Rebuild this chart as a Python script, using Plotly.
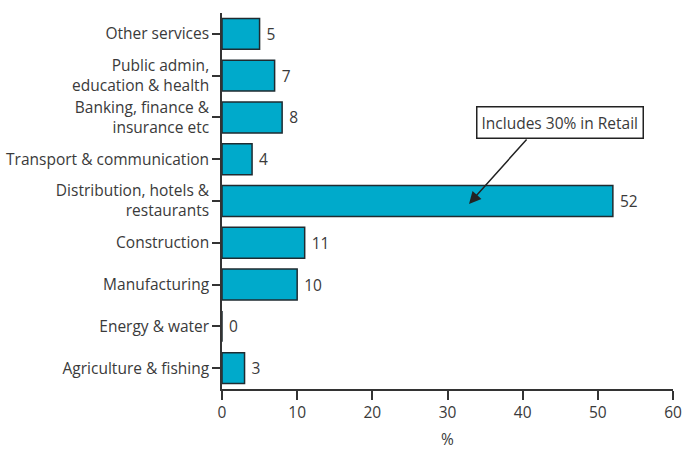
import plotly.graph_objects as go

categories = ["Agriculture & fishing", "Energy & water", "Manufacturing", "Construction",
              "Distribution, hotels &<br>restaurants", "Transport & communication",
              "Banking, finance &<br>insurance etc", "Public admin,<br>education & health",
              "Other services"]
values = [3, 0, 10, 11, 52, 4, 8, 7, 5]
x_ticks = [0, 10, 20, 30, 40, 50, 60]
note_text = "Includes 30% in Retail"

FONT = "Open Sans, Noto Sans, sans-serif"
FS = 15.5
bar_color = "#00AACB"
txt = "#3a3a3a"

fig = go.Figure(go.Bar(
    y=list(range(len(categories))), x=values, orientation="h",
    marker=dict(color=bar_color, line=dict(color="#1f2b30", width=1.5)),
    width=0.74,
    text=[" " + str(v) for v in values], textposition="outside",
    textfont=dict(family=FONT, size=FS, color=txt), cliponaxis=False,
    hoverinfo="skip",
))

fig.update_layout(
    width=683, height=451,
    margin=dict(l=222, r=10, t=13, b=62, autoexpand=False),
    paper_bgcolor="white", plot_bgcolor="white",
    showlegend=False,
    font=dict(family=FONT, size=FS, color=txt),
    xaxis=dict(range=[0, 60], tickvals=x_ticks, ticks="outside", ticklen=9,
               tickwidth=1.5, tickcolor="#333", showline=True, linecolor="#333",
               linewidth=1.5, showgrid=False, zeroline=False, automargin=False,
               title=dict(text="%", font=dict(size=FS, color=txt), standoff=12),
               tickfont=dict(size=FS, color=txt)),
    yaxis=dict(range=[-0.5, 8.5], tickvals=list(range(len(categories))),
               ticktext=categories, ticks="outside", ticklen=8, tickwidth=1.5,
               tickcolor="#333", showline=True, linecolor="#333", linewidth=1.5,
               showgrid=False, zeroline=False, tickson="boundaries", automargin=False,
               tickfont=dict(size=FS, color=txt)),
)

# callout box
fig.add_annotation(x=44.95, y=5.87, xref="x", yref="y", text=note_text, showarrow=False,
                   font=dict(family=FONT, size=FS, color=txt),
                   bordercolor="#222", borderwidth=1.5, borderpad=4, bgcolor="white")
# arrow
fig.add_annotation(x=32.86, y=3.93, xref="x", yref="y", ax=40.7, ay=5.51,
                   axref="x", ayref="y", text="", showarrow=True,
                   arrowhead=2, arrowsize=1.6, arrowwidth=1.5, arrowcolor="#222",
                   standoff=0)

fig.write_html("out.html", config={"displayModeBar": False},
               post_script="document.body.style.margin='0px';document.body.style.overflow='hidden';")
